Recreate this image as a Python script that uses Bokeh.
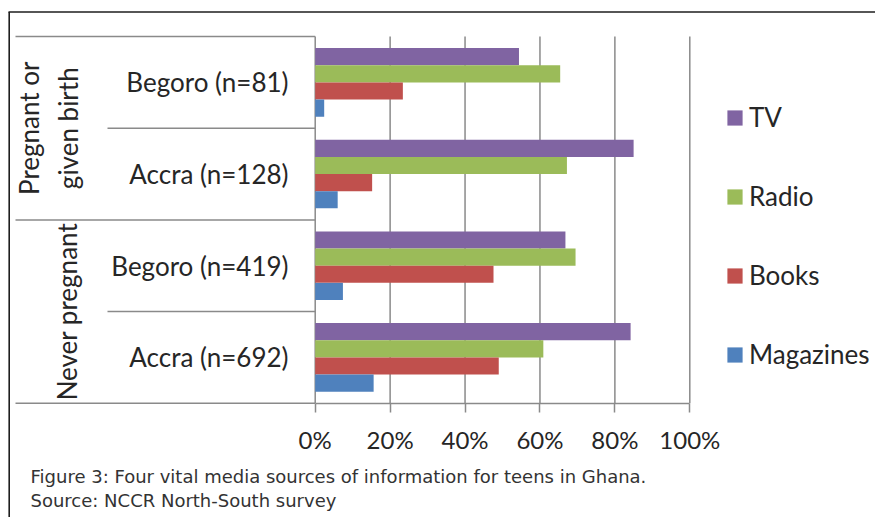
import math
from bokeh.plotting import figure
from bokeh.models import (ColumnDataSource, LinearAxis, FixedTicker, Range1d,
                          Legend, LegendItem)
from bokeh.transform import dodge
from bokeh.core.properties import value
from bokeh.embed import file_html
from bokeh.resources import INLINE

# ---------------- data ----------------
groups = ["Never pregnant", "Never pregnant",
          "Pregnant or\ngiven birth", "Pregnant or\ngiven birth"]
sites = ["Accra (n=692)", "Begoro (n=419)", "Accra (n=128)", "Begoro (n=81)"]
series_names = ["TV", "Radio", "Books", "Magazines"]
tv = [84.2, 66.8, 85.0, 54.4]
radio = [60.9, 69.5, 67.2, 65.4]
books = [49.0, 47.6, 15.2, 23.4]
magazines = [15.6, 7.4, 6.0, 2.4]
x_ticks = [0, 20, 40, 60, 80, 100]
tick_labels = ["0%", "20%", "40%", "60%", "80%", "100%"]
caption = ["Figure 3: Four vital media sources of information for teens in Ghana.",
           "Source: NCCR North-South survey"]

# ---------------- styles / layout ----------------
colors = ["#8064A2", "#9BBB59", "#C0504D", "#4F81BD"]
W, H = 875, 517
GRID = "#8a8a8a"
TXT = "#262626"
FONT = "Lato"

# pixel (page) -> data helpers for decoration placement
def xd(px):
    return (px - 314.7) / 3.746

def yd(py):
    return (356.9 - py) / 91.67

p = figure(width=W, height=H, output_backend="svg", toolbar_location=None,
           x_range=Range1d(xd(0), xd(W)),
           y_range=Range1d(yd(H), yd(0)),
           x_axis_type=None, y_axis_type=None,
           min_border=0, min_border_left=0, min_border_right=0,
           min_border_top=0, min_border_bottom=0)
p.outline_line_color = None
p.xgrid.visible = False
p.ygrid.visible = False
p.background_fill_color = "white"
p.border_fill_color = "white"

n = len(sites)
ypos = list(range(n))
src = ColumnDataSource(dict(y=ypos, TV=tv, Radio=radio, Books=books,
                            Magazines=magazines))

# outer box (left + top edges)
p.segment(x0=[xd(8.7), xd(8)], y0=[yd(11.5), yd(11.5)],
          x1=[xd(8.7), xd(W)], y1=[yd(H), yd(11.5)],
          line_color="#1e1e1e", line_width=1.6)

# gridlines
p.segment(x0=x_ticks, x1=x_ticks, y0=[-0.5] * len(x_ticks),
          y1=[n - 0.5] * len(x_ticks), line_color=GRID, line_width=1.5)

# table lines on the left
tab_x0, tab_x0_inner = xd(15), xd(107)
sx0, sy = [], []
for i in range(n + 1):
    yb = i - 0.5
    if i == 0 or i == n or groups[i - 1] != groups[i]:
        sx0.append(tab_x0)
    else:
        sx0.append(tab_x0_inner)
    sy.append(yb)
p.segment(x0=sx0, x1=[0] * len(sx0), y0=sy, y1=sy, line_color=GRID,
          line_width=1.5)

# bars
bar_h = 0.187
offsets = [1.5 * bar_h, 0.5 * bar_h, -0.5 * bar_h, -1.5 * bar_h]
renderers = []
for name, col, off in zip(series_names, colors, offsets):
    r = p.hbar(y=dodge("y", off, range=p.y_range), left=0, right=name,
               height=bar_h, source=src, fill_color=col, line_color=None)
    renderers.append(r)

# category labels
p.text(x=[xd(288)] * n, y=ypos, text=sites, text_align="right",
       text_baseline="middle", text_font=value(FONT), text_font_size="26px",
       text_color=TXT)

# group labels (rotated)
uniq = []
for g in groups:
    if g not in uniq:
        uniq.append(g)
g_center = [sum(i for i, gg in enumerate(groups) if gg == g) /
            groups.count(g) for g in uniq]
g_px = {"Never pregnant": 66, "Pregnant or\ngiven birth": 48}
p.text(x=[xd(g_px[g]) for g in uniq], y=g_center, text=uniq,
       angle=math.pi / 2, text_align="center", text_baseline="middle",
       text_font=value(FONT), text_font_size="26px", text_color=TXT,
       text_line_height=1.2)

# x axis at the bottom of the bar area
ax = LinearAxis(fixed_location=-0.5, bounds=(0, 100),
                ticker=FixedTicker(ticks=x_ticks))
ax.major_label_overrides = dict(zip(x_ticks, tick_labels))
ax.axis_line_color = GRID
ax.axis_line_width = 1.5
ax.major_tick_line_color = GRID
ax.major_tick_line_width = 1.5
ax.major_tick_in = 0
ax.major_tick_out = 9
ax.minor_tick_line_color = None
ax.major_label_standoff = 13
ax.major_label_text_font = FONT
ax.major_label_text_font_size = "24px"
ax.major_label_text_color = TXT
p.add_layout(ax, "below")

# caption
p.text(x=[xd(30)] * 2, y=[yd(476), yd(500)], text=caption, text_align="left",
       text_baseline="middle", text_font=value("DejaVu Sans"),
       text_font_size="18px", text_color="#333333")

# legend
legend = Legend(items=[LegendItem(label=nm, renderers=[r])
                       for nm, r in zip(series_names, renderers)],
                location=(725, 147), orientation="vertical")
legend.glyph_width = 19
legend.glyph_height = 19
legend.label_standoff = 5
legend.label_height = 19
legend.spacing = 47
legend.padding = 0
legend.margin = 0
legend.border_line_color = None
legend.background_fill_alpha = 0
legend.label_text_font = FONT
legend.label_text_font_size = "26px"
legend.label_text_color = TXT
p.add_layout(legend, "center")

open("out.html", "w").write(file_html(p, INLINE))
